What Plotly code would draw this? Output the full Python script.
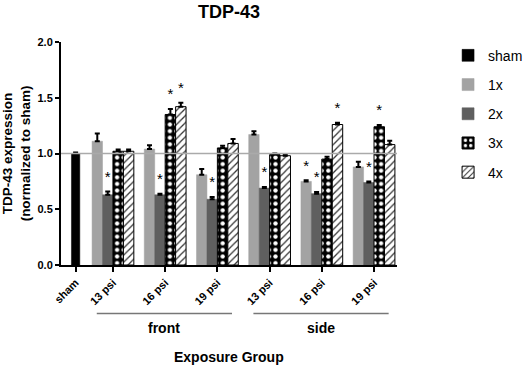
import plotly.graph_objects as go

# ---------------- data ----------------
categories = ["sham", "13 psi", "16 psi", "19 psi", "13 psi", "16 psi", "19 psi"]
groups = ["front", "side"]
series_names = ["sham", "1x", "2x", "3x", "4x"]

sham_val = [1.00]
sham_err = [0.01]

v1 = [1.11, 1.04, 0.81, 1.17, 0.75, 0.88]
e1 = [0.07, 0.035, 0.05, 0.03, 0.01, 0.045]
s1 = [0, 0, 0, 0, 1, 0]

v2 = [0.63, 0.63, 0.59, 0.69, 0.64, 0.74]
e2 = [0.03, 0.01, 0.02, 0.01, 0.015, 0.01]
s2 = [1, 1, 1, 1, 1, 1]

v3 = [1.02, 1.35, 1.05, 0.99, 0.95, 1.24]
e3 = [0.015, 0.05, 0.02, 0.01, 0.02, 0.015]
s3 = [0, 1, 0, 0, 0, 1]

v4 = [1.02, 1.42, 1.09, 0.98, 1.26, 1.08]
e4 = [0.015, 0.035, 0.04, 0.01, 0.015, 0.035]
s4 = [0, 1, 0, 0, 1, 0]

y_ticks = [0.0, 0.5, 1.0, 1.5, 2.0]

# ---------------- layout helpers ----------------
FONT = "Liberation Sans, Arial, sans-serif"
sham_pos = [0.0]
grp_pos = [0.715 + i for i in range(6)]
BW = 0.2
SHAM_W = 0.16

fig = go.Figure()

fig.add_trace(go.Bar(
    name="sham", x=sham_pos, y=sham_val, width=SHAM_W,
    marker=dict(color="black", line=dict(color="black", width=0.5)),
    error_y=dict(type="data", array=sham_err, arrayminus=[0] * len(sham_err), symmetric=False,
                 color="black", thickness=2, width=2.5),
    legendgroup="g0",
))

styles = [
    dict(color="#a3a3a3", line=dict(color="#a3a3a3", width=0.5)),
    dict(color="#5f5f5f", line=dict(color="#5f5f5f", width=0.5)),
    dict(color="black", line=dict(color="black", width=1),
         pattern=dict(shape=".", bgcolor="black", fgcolor="white", size=6.6, solidity=0.33, fillmode="replace")),
    dict(color="white", line=dict(color="black", width=1),
         pattern=dict(shape="/", bgcolor="white", fgcolor="#333333", size=5, solidity=0.25, fillmode="replace")),
]
vals = [v1, v2, v3, v4]
errs = [e1, e2, e3, e4]
sigs = [s1, s2, s3, s4]

star_x, star_y = [], []
for k in range(4):
    off = (k - 2) * BW
    fig.add_trace(go.Bar(
        name=series_names[k + 1], x=grp_pos, y=vals[k], width=BW, offset=off,
        marker=styles[k],
        error_y=dict(type="data", array=errs[k], arrayminus=[0] * len(errs[k]), symmetric=False,
                     color="black", thickness=2, width=2.5),
        legendgroup="g%d" % (k + 1),
    ))
    for i, s in enumerate(sigs[k]):
        if s:
            star_x.append(grp_pos[i] + off + BW / 2)
            star_y.append(vals[k][i] + errs[k][i] + 0.12)

fig.add_trace(go.Scatter(
    x=star_x, y=star_y, mode="text", text=["*"] * len(star_x),
    textfont=dict(family=FONT, size=15, color="black"),
    textposition="middle center", showlegend=False, hoverinfo="skip",
))

# reference line at 1.0
fig.add_shape(type="line", xref="paper", yref="y", x0=0, x1=1, y0=1.0, y1=1.0,
              line=dict(color="#aaaaaa", width=1.5), layer="above")

# group lines and labels
for g, idx in zip(groups, [(1, 3), (4, 6)]):
    a = grp_pos[idx[0] - 1] - 0.31
    b = grp_pos[idx[1] - 1] + 0.28
    fig.add_shape(type="line", xref="x", yref="paper", x0=a, x1=b, y0=-0.217, y1=-0.217,
                  line=dict(color="#777777", width=1.5))
    fig.add_annotation(xref="x", yref="paper", x=(a + b) / 2, y=-0.284, text=g, showarrow=False,
                       font=dict(family=FONT, size=14, color="black", weight="bold"),
                       yanchor="middle")

fig.add_annotation(xref="paper", yref="paper", x=0.5, y=-0.414, text="Exposure Group",
                   showarrow=False, yanchor="middle",
                   font=dict(family=FONT, size=14, color="black", weight="bold"))

fig.update_layout(
    width=529, height=369,
    margin=dict(l=61, r=132, t=42, b=103.5, autoexpand=False),
    paper_bgcolor="white", plot_bgcolor="white",
    barmode="overlay",
    title=dict(text="TDP-43", x=229 / 529, xanchor="center", y=1 - 12 / 369, yanchor="middle",
               font=dict(family=FONT, size=18, color="black", weight="bold")),
    font=dict(family=FONT, color="black"),
    showlegend=True,
    legend=dict(x=1.152, y=1.01, xanchor="left", yanchor="top", tracegroupgap=8,
                font=dict(family=FONT, size=14, color="black"), bgcolor="rgba(0,0,0,0)"),
    xaxis=dict(range=[-0.28, 6.155], tickmode="array", tickvals=sham_pos + grp_pos, ticktext=categories,
               tickangle=-45, showgrid=False, zeroline=False, showline=True, linecolor="black", linewidth=2,
               ticks="outside", ticklen=5, tickwidth=2, tickcolor="black",
               tickfont=dict(family=FONT, size=11, color="black", weight="bold")),
    yaxis=dict(range=[0, 2.0], tickmode="array", tickvals=y_ticks, tickformat=".1f",
               showgrid=False, zeroline=False, showline=True, linecolor="black", linewidth=2,
               ticks="outside", ticklen=4, tickwidth=1.5, tickcolor="black",
               tickfont=dict(family=FONT, size=11, color="black", weight="bold"),
               title=dict(text="TDP-43 expression<br>(normalized to sham)", standoff=5,
                          font=dict(family=FONT, size=13.5, color="black", weight="bold"))),
)

fig.write_html("out.html", config={"displayModeBar": False},
               post_script="document.body.style.margin='0';document.body.style.overflow='hidden';")
